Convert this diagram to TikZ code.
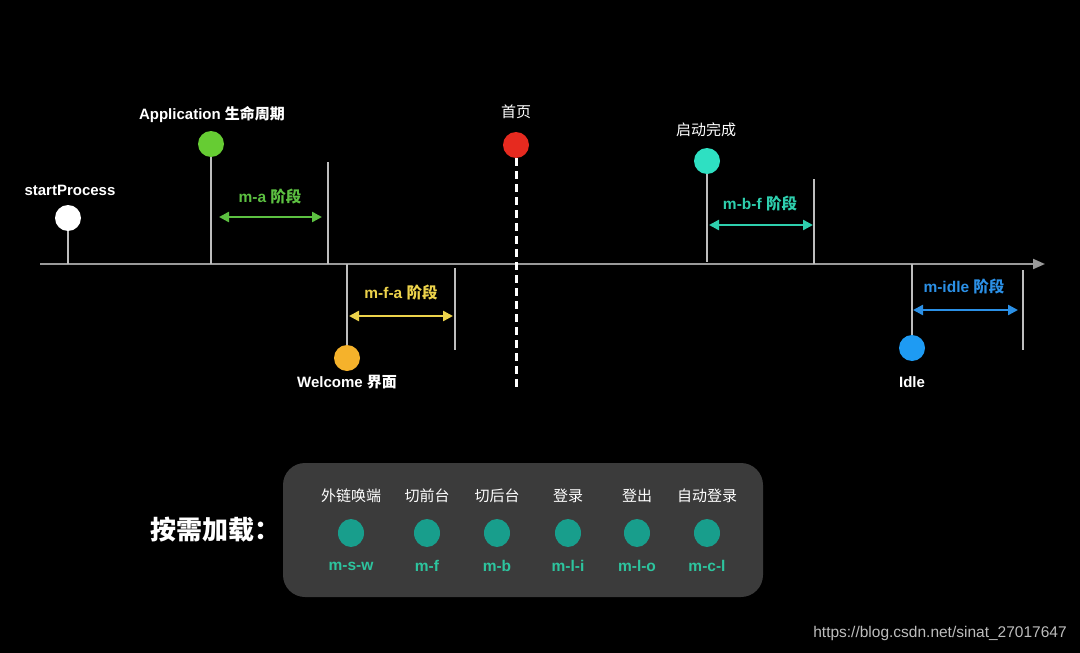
\documentclass[tikz,border=0pt]{standalone}
\usepackage{fontspec}
\setmainfont{Liberation Sans}
\newfontfamily\cjk{Noto Sans CJK SC}
\usetikzlibrary{arrows.meta,shapes.geometric}
\definecolor{cGreen}{HTML}{66CC33}
\definecolor{cGreenT}{HTML}{5CC041}
\definecolor{cOrange}{HTML}{F5B22B}
\definecolor{cYellow}{HTML}{EDD34B}
\definecolor{cRed}{HTML}{E62A1F}
\definecolor{cTeal}{HTML}{2EE0C2}
\definecolor{cTealT}{HTML}{2ECFAE}
\definecolor{cBlue}{HTML}{1E9BF3}
\definecolor{cBlueT}{HTML}{2B90E6}
\definecolor{cBox}{HTML}{3B3B3B}
\definecolor{cDot}{HTML}{189E8C}
\definecolor{cSub}{HTML}{2DC49E}
\definecolor{cAxis}{HTML}{9A9A9A}
\definecolor{cStem}{HTML}{BEBEBE}
\definecolor{cMark}{HTML}{BDBDBD}
\begin{document}
\begin{tikzpicture}[x=1pt,y=-1pt,
  dot/.style={circle, minimum size=26pt, inner sep=0pt},
  lbl/.style={text=white, inner sep=0pt, font=\fontsize{15}{17}\selectfont\bfseries},
  phase/.style={inner sep=0pt, font=\fontsize{15.5}{17}\selectfont\bfseries},
  stem/.style={draw=cStem, line width=1.1pt},
  axisline/.style={draw=cAxis, line width=2pt, -{Triangle[length=12pt,width=10pt]}},
  span/.style={line width=2.4pt, {Triangle[length=10pt,width=10pt]}-{Triangle[length=10pt,width=10pt]}},
  bdot/.style={ellipse, minimum width=26pt, minimum height=28pt, inner sep=0pt, fill=cDot},
  btop/.style={text=white, inner sep=0pt, font=\fontsize{15}{17}\selectfont\cjk},
  bsub/.style={text=cSub, inner sep=0pt, font=\fontsize{15.5}{17}\selectfont\bfseries}
]
\fill[black] (0,0) rectangle (1080,653);
\useasboundingbox (0,0) rectangle (1080,653);

% axis
\coordinate (ax0) at (40,264);
\coordinate (ax1) at (1045,264);
\draw[axisline] (ax0) -- (ax1);

% startProcess
\node[dot, fill=white] (sp) at (68,218) {};
\coordinate (spB) at (68,264);
\draw[stem] (sp) -- (spB);
\node[lbl] (spL) at (70,190) {startProcess};

% Application
\node[dot, fill=cGreen] (app) at (211,144) {};
\coordinate (appB) at (211,264);
\draw[stem] (app) -- (appB);
\node[lbl] (appL) at (212,114) {Application {\cjk 生命周期}};
\coordinate (maT) at (328,162);
\coordinate (maB) at (328,264);
\draw[stem] (maT) -- (maB);
\coordinate (maA1) at (219,217);
\coordinate (maA2) at (322,217);
\draw[span, cGreenT] (maA1) -- (maA2);
\node[phase, text=cGreenT] (maL) at (270,197) {m-a {\cjk 阶段}};

% Welcome
\node[dot, fill=cOrange] (wel) at (347,358) {};
\coordinate (welT) at (347,264);
\draw[stem] (welT) -- (wel);
\node[lbl] (welL) at (347,382) {Welcome {\cjk 界面}};
\coordinate (mfaT) at (455,268);
\coordinate (mfaB) at (455,350);
\draw[stem] (mfaT) -- (mfaB);
\coordinate (mfaA1) at (349,316);
\coordinate (mfaA2) at (453,316);
\draw[span, cYellow] (mfaA1) -- (mfaA2);
\node[phase, text=cYellow] (mfaL) at (401,293) {m-f-a {\cjk 阶段}};

% home
\node[lbl, font=\fontsize{15}{17}\selectfont\cjk] (homeL) at (516,112) {首页};
\node[dot, fill=cRed] (home) at (516,145) {};
\coordinate (homeB) at (516,387);
\draw[white, line width=3pt, dash pattern=on 8pt off 5pt] (home.south) -- (homeB);

% startup done
\node[lbl, font=\fontsize{15}{17}\selectfont\cjk] (doneL) at (706,130) {启动完成};
\node[dot, fill=cTeal] (done) at (707,161) {};
\coordinate (doneB) at (707,262);
\draw[stem] (done) -- (doneB);
\coordinate (mbfT) at (814,179);
\coordinate (mbfB) at (814,264);
\draw[stem] (mbfT) -- (mbfB);
\coordinate (mbfA1) at (709,225);
\coordinate (mbfA2) at (813,225);
\draw[span, cTealT] (mbfA1) -- (mbfA2);
\node[phase, text=cTealT] (mbfL) at (760,204) {m-b-f {\cjk 阶段}};

% Idle
\node[dot, fill=cBlue] (idle) at (912,348) {};
\coordinate (idleT) at (912,264);
\draw[stem] (idleT) -- (idle);
\node[lbl] (idleL) at (912,382) {Idle};
\coordinate (miT) at (1023,270);
\coordinate (miB) at (1023,350);
\draw[stem] (miT) -- (miB);
\coordinate (miA1) at (913,310);
\coordinate (miA2) at (1018,310);
\draw[span, cBlueT] (miA1) -- (miA2);
\node[phase, text=cBlueT] (miL) at (964,287) {m-idle {\cjk 阶段}};

% on-demand box
\node[fill=cBox, rounded corners=22pt, minimum width=480pt, minimum height=134pt, inner sep=0pt] (box) at (523,530) {};
\node[text=white, anchor=west, inner sep=0pt, font=\fontsize{26}{29}\selectfont\cjk\bfseries] (od) at (150,530) {按需加载：};

\foreach \x/\t/\s/\n in {351/外链唤端/m-s-w/a, 427/切前台/m-f/b, 497/切后台/m-b/c, 568/登录/m-l-i/d, 637/登出/m-l-o/e, 707/自动登录/m-c-l/f}{
  \node[btop] (t\n) at (\x,496) {\t};
  \node[bdot] (d\n) at (\x,533) {};
  \node[bsub] (s\n) at (\x,566) {\s};
}

% watermark
\node[text=cMark, inner sep=0pt, font=\fontsize{15.5}{17}\selectfont] (wm) at (940,633) {https://blog.csdn.net/sinat\_27017647};
\end{tikzpicture}
\end{document}
